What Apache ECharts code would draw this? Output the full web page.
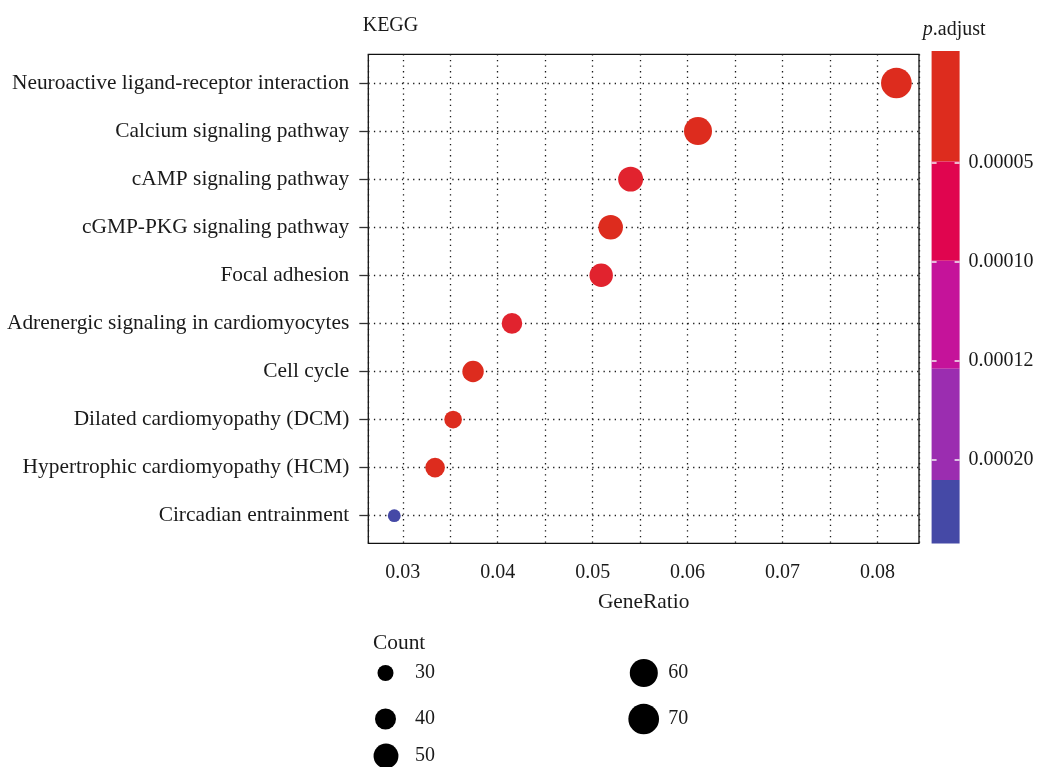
<!DOCTYPE html>
<html>
<head>
<meta charset="utf-8">
<script src="https://cdn.jsdelivr.net/npm/echarts@6/dist/echarts.min.js"></script>
<style>html,body{margin:0;padding:0;background:#fff}#c{width:1037px;height:767px}</style>
</head>
<body>
<div id="c"></div>
<script>
// ---- data ----
const categories = [
  'Neuroactive ligand-receptor interaction',
  'Calcium signaling pathway',
  'cAMP signaling pathway',
  'cGMP-PKG signaling pathway',
  'Focal adhesion',
  'Adrenergic signaling in cardiomyocytes',
  'Cell cycle',
  'Dilated cardiomyopathy (DCM)',
  'Hypertrophic cardiomyopathy (HCM)',
  'Circadian entrainment'
];
const geneRatio = [0.0820, 0.0611, 0.0540, 0.0519, 0.0509, 0.0415, 0.0374, 0.0353, 0.0334, 0.0291];
const counts    = [70, 60, 50, 49, 46, 39, 41, 33, 37, 25];
const pAdjust   = [0.000002, 0.000003, 0.00002, 0.000005, 0.00002, 0.00002, 0.000005, 0.000006, 0.000007, 0.00026];
const pLabels   = ['0.00005', '0.00010', '0.00012', '0.00020'];
const countBreaks = [30, 40, 50, 60, 70];
const cbColors  = ['#DD2C1E', '#E0054F', '#C5139A', '#9B2DB0', '#4549A6'];
const cbBlocks  = [110.5, 99.3, 108, 111.2, 63.5];

// ---- layout / style ----
const FONT = 'Liberation Serif';
const TXT = '#1a1a1a';
const FS = 20;
const FSL = 21.4;
const xMin = 0.026365, xMax = 0.084383;
const plotL = 368.3, plotR = 919, plotT = 54.3, plotB = 543.3;
const rowT = 83, rowB = 515.7;
const dotted = { color: '#1a1a1a', width: 1.3, type: [1.3, 4.3] };

function sizeFn(c) { return 17.35 * Math.log(c) - 43.0; }

const legendPos = [[385.5, 673, 415], [385.5, 719, 415], [386, 756, 415], [643.8, 673, 668.3], [643.7, 719, 668.3]];

const chart = echarts.init(document.getElementById('c'), null, { renderer: 'canvas' });

const cbTotal = cbBlocks.reduce((a, b) => a + b, 0);

const legends = countBreaks.map((b, i) => {
  const d = sizeFn(b);
  const [cx, cy, tx] = legendPos[i];
  const h = Math.max(d, 20);
  return {
    data: [{ name: String(b), icon: 'circle' }],
    left: cx - d / 2, top: cy - h / 2,
    padding: 0, itemWidth: d, itemHeight: d, itemGap: 0,
    selectedMode: false,
    itemStyle: { color: '#000', opacity: 1 },
    textStyle: { fontFamily: FONT, fontSize: FS, color: TXT, lineHeight: 20,
      padding: [0, 0, 0, tx - (cx + d / 2 + 5)] }
  };
});

const legendSeries = countBreaks.map(b => ({
  type: 'scatter', name: String(b), data: [], xAxisIndex: 1, yAxisIndex: 1,
  itemStyle: { color: '#000', opacity: 1 }, symbolSize: sizeFn(b)
}));

const gridBase = { containLabel: false, outerBoundsMode: 'none' };

const option = {
  backgroundColor: '#fff',
  animation: false,
  title: [
    { text: 'KEGG', left: 362.7, top: 16, padding: 0,
      textStyle: { fontFamily: FONT, fontSize: FS, fontWeight: 'normal', color: TXT } },
    { text: '{i|p}.adjust', left: 922.8, top: 20, padding: 0,
      textStyle: { fontFamily: FONT, fontSize: FS, fontWeight: 'normal', color: TXT,
        rich: { i: { fontFamily: FONT, fontSize: FS, fontStyle: 'italic', color: TXT } } } },
    { text: 'Count', left: 373, top: 633, padding: 0,
      textStyle: { fontFamily: FONT, fontSize: FSL, fontWeight: 'normal', color: TXT } }
  ],
  legend: legends,
  grid: [
    Object.assign({ left: plotL, top: plotT, width: plotR - plotL, height: plotB - plotT, show: true,
      borderColor: '#111', borderWidth: 1.3, backgroundColor: 'transparent' }, gridBase),
    Object.assign({ left: plotL, top: rowT, width: plotR - plotL, height: rowB - rowT }, gridBase),
    Object.assign({ left: 931.6, top: 51, width: 28, height: 492.5 }, gridBase),
    Object.assign({ left: 931.6, top: 162.6, width: 28, height: 297.3 }, gridBase)
  ],
  xAxis: [
    { type: 'value', gridIndex: 0, min: xMin, max: xMax, splitNumber: 12,
      name: 'GeneRatio', nameLocation: 'middle', nameGap: 49,
      nameTextStyle: { fontFamily: FONT, fontSize: FSL, color: TXT },
      axisLine: { show: false }, axisTick: { show: false },
      axisLabel: { margin: 19, fontFamily: FONT, fontSize: FS, color: TXT,
        formatter: v => Math.abs(v * 100 - Math.round(v * 100)) < 1e-6 ? v.toFixed(2) : '' },
      splitLine: { show: true, lineStyle: dotted } },
    { type: 'value', gridIndex: 1, min: xMin, max: xMax, show: false },
    { type: 'category', gridIndex: 2, data: ['cb'], show: false },
    { type: 'category', gridIndex: 3, data: ['cb'], show: false }
  ],
  yAxis: [
    { type: 'value', gridIndex: 0, min: 0, max: 1, show: false },
    { type: 'value', gridIndex: 1, min: 0, max: categories.length - 1, interval: 1, inverse: true,
      axisLine: { show: false },
      axisTick: { show: true, length: 9, lineStyle: { color: '#333', width: 1.3 } },
      axisLabel: { margin: 19, fontFamily: FONT, fontSize: FSL, color: TXT,
        formatter: v => categories[v] || '' },
      splitLine: { show: true, lineStyle: dotted } },
    { type: 'value', gridIndex: 2, min: 0, max: cbTotal, inverse: true, show: false },
    { type: 'value', gridIndex: 3, min: 0, max: pLabels.length - 1, interval: 1, inverse: true,
      position: 'left', z: 10, axisLine: { show: false }, splitLine: { show: false },
      axisLabel: { show: false },
      axisTick: { show: true, inside: true, length: 5, lineStyle: { color: '#f4f4f4', width: 1.5 } } },
    { type: 'value', gridIndex: 3, min: 0, max: pLabels.length - 1, interval: 1, inverse: true,
      position: 'right', z: 10, axisLine: { show: false }, splitLine: { show: false },
      axisLabel: { show: true, margin: 9, fontFamily: FONT, fontSize: FS, color: TXT,
        formatter: v => pLabels[v] || '' },
      axisTick: { show: true, inside: true, length: 5, lineStyle: { color: '#f4f4f4', width: 1.5 } } }
  ],
  visualMap: {
    type: 'piecewise', show: false, seriesIndex: 0, dimension: 3,
    pieces: [
      { lt: 0.00001, color: '#DD2C1E' },
      { gte: 0.00001, lt: 0.00005, color: '#E1232E' },
      { gte: 0.00005, lt: 0.0001, color: '#E0054F' },
      { gte: 0.0001, lt: 0.00012, color: '#C5139A' },
      { gte: 0.00012, lt: 0.0002, color: '#9B2DB0' },
      { gte: 0.0002, color: '#4549A6' }
    ]
  },
  series: [
    { type: 'scatter', name: 'KEGG', xAxisIndex: 1, yAxisIndex: 1,
      data: categories.map((c, i) => [geneRatio[i], i, counts[i], pAdjust[i]]),
      symbolSize: v => sizeFn(v[2]), itemStyle: { opacity: 1 }, z: 5 }
  ].concat(cbBlocks.map((b, i) => ({
    type: 'bar', xAxisIndex: 2, yAxisIndex: 2, stack: 'cb', data: [b],
    barWidth: '100%', itemStyle: { color: cbColors[i] }, silent: true, z: 1
  }))).concat(legendSeries)
};
chart.setOption(option);
</script>
</body>
</html>
